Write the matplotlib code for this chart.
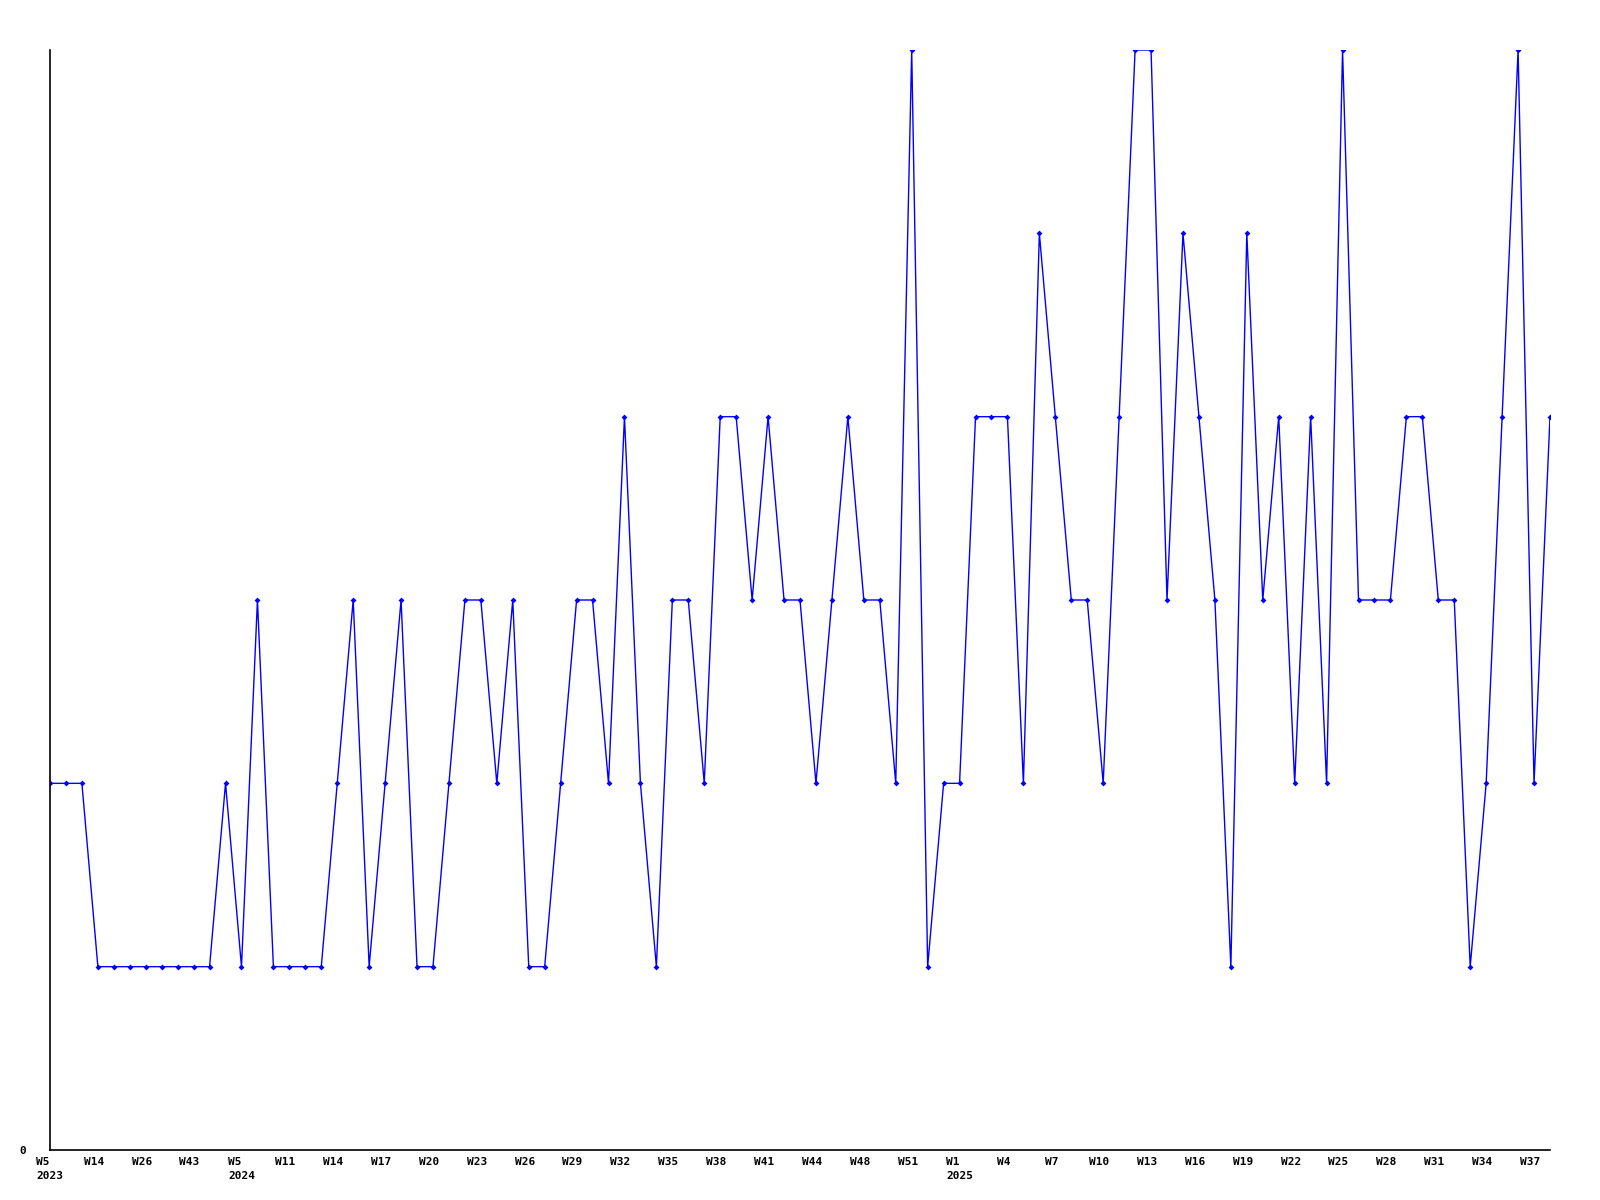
import matplotlib
matplotlib.use("Agg")
import matplotlib.pyplot as plt
import matplotlib.transforms as mtransforms

# weekly counts, one point per week shown
values = [2, 2, 2, 1, 1, 1, 1, 1, 1, 1,
          1, 2, 1, 3, 1, 1, 1, 1, 2, 3,
          1, 2, 3, 1, 1, 2, 3, 3, 2, 3,
          1, 1, 2, 3, 3, 2, 4, 2, 1, 3,
          3, 2, 4, 4, 3, 4, 3, 3, 2, 3,
          4, 3, 3, 2, 6, 1, 2, 2, 4, 4,
          4, 2, 5, 4, 3, 3, 2, 4, 6, 6,
          3, 5, 4, 3, 1, 5, 3, 4, 2, 4,
          2, 6, 3, 3, 3, 4, 4, 3, 3, 1,
          2, 4, 6, 2, 4]

# label every third point
tick_labels = ["W5\n2023", "W14", "W26", "W43", "W5\n2024", "W11", "W14", "W17",
               "W20", "W23", "W26", "W29", "W32", "W35", "W38", "W41", "W44",
               "W48", "W51", "W1\n2025", "W4", "W7", "W10", "W13", "W16", "W19",
               "W22", "W25", "W28", "W31", "W34", "W37"]

x = list(range(len(values)))
tick_pos = x[::3][:len(tick_labels)]

fig = plt.figure(figsize=(16, 12), dpi=100)
ax = fig.add_axes([50 / 1600, 50 / 1200, 1500 / 1600, 1100 / 1200])

ax.plot(x, values, color="#0000ff", linewidth=1.0, marker="D", markersize=3,
        markeredgewidth=0)

ax.set_xlim(0, len(values) - 1)
ax.set_ylim(0, 6)

for s in ["top", "right"]:
    ax.spines[s].set_visible(False)
for s in ["left", "bottom"]:
    ax.spines[s].set_linewidth(1.2)
    ax.spines[s].set_color("black")

font = dict(family="DejaVu Sans Mono", weight="bold", size=8)
ax.set_xticks(tick_pos)
ax.set_xticklabels(tick_labels, ha="center", va="top", linespacing=1.5,
                   multialignment="left", **font)
ax.tick_params(axis="x", length=0, pad=5)
ax.set_yticks([0])
ax.set_yticklabels(["0"], **font)
ax.tick_params(axis="y", length=0, pad=17)

# nudge single-line x labels a little to the left, like the original
offset = mtransforms.ScaledTranslation(-4 / 100, 0, fig.dpi_scale_trans)
for lbl, txt in zip(ax.get_xticklabels(), tick_labels):
    if "\n" not in txt:
        lbl.set_transform(lbl.get_transform() + offset)

fig.savefig("out.png", dpi=100)
